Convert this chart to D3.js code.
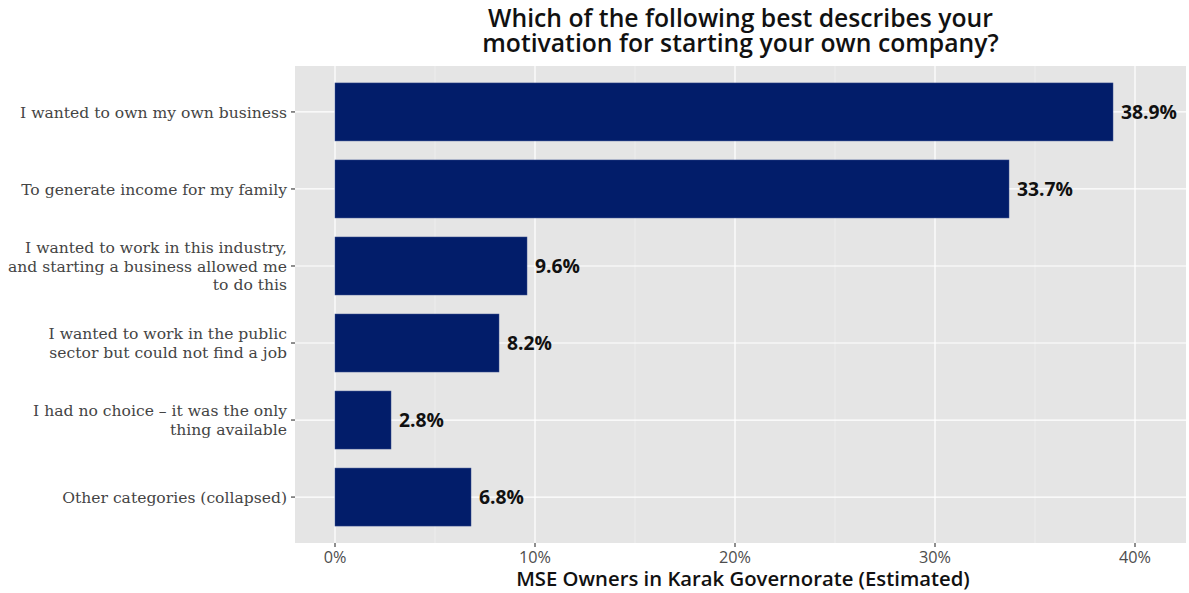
<!DOCTYPE html>
<html>
<head>
<meta charset="utf-8">
<script src="https://cdn.jsdelivr.net/npm/d3@7"></script>
<style>
  html, body { margin: 0; padding: 0; background: #fff; }
  svg { display: block; }
</style>
</head>
<body>
<svg id="chart" width="1189" height="593"></svg>
<script>
// ---- data ----
const categories = [
  "I wanted to own my own business",
  "To generate income for my family",
  "I wanted to work in this industry,\nand starting a business allowed me\nto do this",
  "I wanted to work in the public\nsector but could not find a job",
  "I had no choice \u2013 it was the only\nthing available",
  "Other categories (collapsed)"
];
const values = [38.9, 33.7, 9.6, 8.2, 2.8, 6.8];
const valueLabels = ["38.9%", "33.7%", "9.6%", "8.2%", "2.8%", "6.8%"];
const xTicks = [0, 10, 20, 30, 40];
const xTickLabels = ["0%", "10%", "20%", "30%", "40%"];
const xMinor = [5, 15, 25, 35];
const titleLines = ["Which of the following best describes your", "motivation for starting your own company?"];
const xTitle = "MSE Owners in Karak Governorate (Estimated)";

// ---- layout ----
const panel = { left: 295, right: 1186, top: 66, bottom: 543 };
const svg = d3.select("#chart");

const x = d3.scaleLinear().domain([-2.0, 42.55]).range([panel.left, panel.right]);
const y = d3.scaleBand().domain(categories)
  .range([panel.top, panel.bottom]).paddingInner(0.247).paddingOuter(0.22);

const sansFont = "'Open Sans', Lato, sans-serif";
const slabFont = "'DejaVu Serif', serif";

// helper: pick a font size so that a sample string reaches a target width
function fitSize(family, weight, sample, target) {
  const t = svg.append("text").attr("font-family", family).attr("font-weight", weight)
    .attr("font-size", 100).text(sample);
  const w = t.node().getComputedTextLength();
  t.remove();
  return 100 * target / w;
}

const ySize = fitSize(slabFont, 400, categories[0], 267);
const valSize = fitSize(sansFont, 700, "33.7%", 56);
const tickSize = fitSize(sansFont, 400, "40%", 32);
const xTitleSize = fitSize(sansFont, 600, xTitle, 454);
const titleSize = fitSize(sansFont, 600, titleLines[0], 505);

// panel background
svg.append("rect")
  .attr("x", panel.left).attr("y", panel.top)
  .attr("width", panel.right - panel.left).attr("height", panel.bottom - panel.top)
  .attr("fill", "#e5e5e5");

// minor gridlines
svg.append("g").selectAll("line").data(xMinor).join("line")
  .attr("x1", d => x(d)).attr("x2", d => x(d))
  .attr("y1", panel.top).attr("y2", panel.bottom)
  .attr("stroke", "#f2f2f2").attr("stroke-width", 0.6);

// major gridlines
svg.append("g").selectAll("line").data(xTicks).join("line")
  .attr("x1", d => x(d)).attr("x2", d => x(d))
  .attr("y1", panel.top).attr("y2", panel.bottom)
  .attr("stroke", "#ffffff").attr("stroke-width", 1.2);
svg.append("g").selectAll("line").data(categories).join("line")
  .attr("x1", panel.left).attr("x2", panel.right)
  .attr("y1", d => y(d) + y.bandwidth() / 2).attr("y2", d => y(d) + y.bandwidth() / 2)
  .attr("stroke", "#ffffff").attr("stroke-width", 1.2);

// bars
svg.append("g").selectAll("rect").data(values).join("rect")
  .attr("x", x(0))
  .attr("y", (d, i) => y(categories[i]))
  .attr("width", d => x(d) - x(0))
  .attr("height", y.bandwidth())
  .attr("fill", "#021d6a")
  .attr("stroke", "#3a4f8f").attr("stroke-width", 0.5);

// value labels
svg.append("g").selectAll("text").data(values).join("text")
  .attr("x", d => x(d) + 8)
  .attr("y", (d, i) => y(categories[i]) + y.bandwidth() / 2)
  .attr("dy", "0.36em")
  .attr("font-family", sansFont).attr("font-weight", 700)
  .attr("font-size", valSize).attr("fill", "#111")
  .text((d, i) => valueLabels[i]);

// y axis ticks + labels
const yAxis = svg.append("g");
categories.forEach(c => {
  const cy = y(c) + y.bandwidth() / 2;
  yAxis.append("line")
    .attr("x1", panel.left - 4).attr("x2", panel.left)
    .attr("y1", cy).attr("y2", cy)
    .attr("stroke", "#333").attr("stroke-width", 1.1);
  const lines = c.split("\n");
  const lh = 18.8;
  const t = yAxis.append("text")
    .attr("text-anchor", "end")
    .attr("font-family", slabFont).attr("font-size", ySize)
    .attr("fill", "#444");
  lines.forEach((ln, i) => {
    t.append("tspan")
      .attr("x", panel.left - 8)
      .attr("y", cy + (i - (lines.length - 1) / 2) * lh)
      .attr("dy", "0.36em")
      .text(ln);
  });
});

// x axis ticks + labels
const xAxis = svg.append("g");
xAxis.selectAll("line").data(xTicks).join("line")
  .attr("x1", d => x(d)).attr("x2", d => x(d))
  .attr("y1", panel.bottom).attr("y2", panel.bottom + 4)
  .attr("stroke", "#333").attr("stroke-width", 1.1);
xAxis.selectAll("text").data(xTicks).join("text")
  .attr("x", d => x(d)).attr("y", panel.bottom + 14)
  .attr("dy", "0.36em")
  .attr("text-anchor", "middle")
  .attr("font-family", sansFont).attr("font-size", tickSize)
  .attr("fill", "#4d4d4d")
  .text((d, i) => xTickLabels[i]);

// x axis title
svg.append("text")
  .attr("x", 743).attr("y", 579)
  .attr("dy", "0.36em")
  .attr("text-anchor", "middle")
  .attr("font-family", sansFont).attr("font-weight", 600).attr("font-size", xTitleSize)
  .attr("fill", "#111")
  .text(xTitle);

// title
const title = svg.append("text")
  .attr("text-anchor", "middle")
  .attr("font-family", sansFont).attr("font-weight", 600).attr("font-size", titleSize)
  .attr("fill", "#111");
titleLines.forEach((ln, i) => {
  title.append("tspan")
    .attr("x", (panel.left + panel.right) / 2)
    .attr("y", 27 + i * 25)
    .text(ln);
});
</script>
</body>
</html>
